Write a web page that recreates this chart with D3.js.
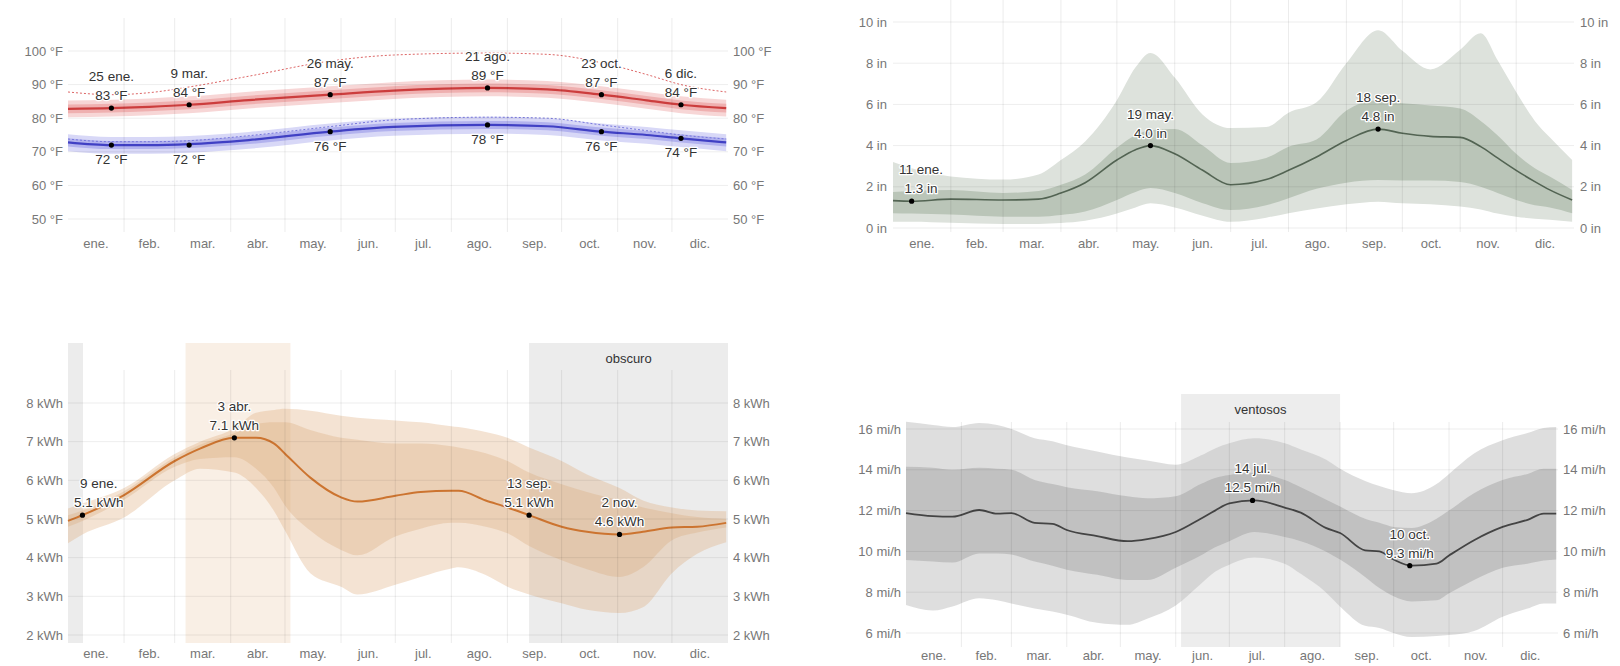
<!DOCTYPE html>
<html><head><meta charset="utf-8">
<script src="https://cdn.jsdelivr.net/npm/d3@7"></script>
<style>
body{margin:0;background:#fff;}
svg{display:block;font-family:"Liberation Sans",Arial,sans-serif;}
.tick text{fill:#777;font-size:13px;}
.ann{fill:#333;font-size:13.5px;text-anchor:middle;paint-order:stroke;stroke:#fff;stroke-width:2.5px;stroke-linejoin:round;}
.mlab{fill:#777;font-size:13px;text-anchor:middle;}
</style></head><body>
<svg id="c" width="1620" height="666"></svg>
<script>
// ---------- common ----------
const months = ["ene.","feb.","mar.","abr.","may.","jun.","jul.","ago.","sep.","oct.","nov.","dic."];
const monthStarts = [0,31,59,90,120,151,181,212,243,273,304,334,365];

// ---------- temperature (°F) ----------
const tempDays = [0, 24, 45, 67, 100, 145, 180, 232, 265, 295, 320, 339, 364];
const highAvg  = [82.8, 83, 83.4, 84, 85.4, 87, 88.2, 89, 88.6, 87, 85.3, 84, 83];
const highP90  = [85.3, 85.5, 85.9, 86.5, 87.9, 89.5, 90.7, 91.5, 91.1, 89.5, 87.8, 86.5, 85.5];
const highP75  = [84.1, 84.3, 84.7, 85.3, 86.7, 88.3, 89.5, 90.3, 89.9, 88.3, 86.6, 85.3, 84.3];
const highP25  = [81.5, 81.7, 82.1, 82.7, 84.1, 85.7, 86.9, 87.7, 87.3, 85.7, 84.0, 82.7, 81.7];
const highP10  = [80.3, 80.5, 80.9, 81.5, 82.9, 84.5, 85.7, 86.5, 86.1, 84.5, 82.8, 81.5, 80.5];
const highFeel = [87.8, 87, 87.6, 89.3, 92.5, 97, 98.8, 99.4, 99, 96.5, 93, 90, 87.8];
const lowAvg   = [72.8, 72, 72, 72.3, 73.5, 76, 77.4, 78, 77.6, 76, 75, 74, 72.8];
const lowP90   = [75.2, 74.4, 74.4, 74.7, 75.9, 78.4, 79.8, 80.4, 80.0, 78.4, 77.4, 76.4, 75.2];
const lowP75   = [74.0, 73.2, 73.2, 73.5, 74.7, 77.2, 78.6, 79.2, 78.8, 77.2, 76.2, 75.2, 74.0];
const lowP25   = [71.6, 70.8, 70.8, 71.1, 72.3, 74.8, 76.2, 76.8, 76.4, 74.8, 73.8, 72.8, 71.6];
const lowP10   = [70.2, 69.4, 69.4, 69.7, 70.9, 73.4, 74.8, 75.4, 75.0, 73.4, 72.4, 71.4, 70.2];
const lowFeel  = [73.8, 73, 73, 73.3, 74.8, 77.5, 79.5, 80.3, 80, 78, 76.3, 75, 73.8];
const tempTicks = [50, 60, 70, 80, 90, 100];
const tempAnn = [
  {day:24, d:"25 ene.", hi:83, lo:72},
  {day:67, d:"9 mar.", hi:84, lo:72},
  {day:145, d:"26 may.", hi:87, lo:76},
  {day:232, d:"21 ago.", hi:89, lo:78},
  {day:295, d:"23 oct.", hi:87, lo:76},
  {day:339, d:"6 dic.", hi:84, lo:74}
];

// ---------- precipitation (in) ----------
const precDays = [0, 10, 31, 59, 78, 90, 103, 120, 130, 138, 151, 166, 181, 200, 212, 227, 243, 260, 273, 288, 304, 315, 324, 334, 344, 352, 364];
const precMid  = [1.33, 1.3, 1.4, 1.36, 1.4, 1.7, 2.2, 3.3, 3.8, 4.0, 3.6, 2.8, 2.1, 2.35, 2.8, 3.45, 4.25, 4.8, 4.6, 4.45, 4.4, 3.95, 3.4, 2.8, 2.25, 1.85, 1.36];
const precP90  = [3.2, 2.9, 2.5, 2.35, 2.6, 3.3, 4.2, 6.2, 7.8, 8.5, 7.3, 5.5, 4.85, 4.9, 5.6, 6.1, 8.0, 9.6, 8.6, 7.7, 8.65, 9.45, 8.15, 6.6, 5.2, 4.4, 3.3];
const precP75  = [1.75, 1.8, 1.84, 1.7, 1.8, 2.1, 2.6, 3.9, 4.5, 4.75, 4.8, 4.0, 3.15, 3.4, 3.95, 4.3, 5.7, 6.2, 6.05, 5.95, 5.8, 5.2, 4.5, 3.6, 2.9, 2.5, 1.85];
const precP25  = [0.72, 0.7, 0.65, 0.55, 0.55, 0.63, 0.8, 1.36, 1.75, 1.94, 1.7, 1.2, 0.87, 1.1, 1.45, 1.9, 2.2, 2.33, 2.3, 2.3, 2.23, 2.0, 1.7, 1.36, 1.1, 1.0, 0.72];
const precP10  = [0.3, 0.3, 0.25, 0.2, 0.2, 0.24, 0.35, 0.7, 1.0, 1.2, 1.0, 0.6, 0.3, 0.5, 0.72, 0.95, 1.15, 1.28, 1.2, 1.15, 1.04, 0.9, 0.7, 0.55, 0.45, 0.4, 0.3];
const precTicks = [0, 2, 4, 6, 8, 10];
const precAnn = [
  {day:10, d:"11 ene.", v:"1.3 in", y:1.3},
  {day:138, d:"19 may.", v:"4.0 in", y:4.0},
  {day:260, d:"18 sep.", v:"4.8 in", y:4.8}
];

// ---------- solar energy (kWh) ----------
const solDays = [0, 8, 31, 59, 73, 92, 104, 114, 120, 134, 151, 160, 181, 195, 212, 216, 231, 243, 255, 273, 287, 305, 318, 334, 348, 364];
const solMid  = [4.95, 5.1, 5.62, 6.5, 6.82, 7.1, 7.1, 6.95, 6.69, 6.07, 5.56, 5.45, 5.6, 5.7, 5.73, 5.73, 5.48, 5.3, 5.1, 4.8, 4.67, 4.6, 4.67, 4.78, 4.8, 4.9];
const solP90  = [5.27, 5.4, 5.8, 6.68, 7.0, 7.35, 7.75, 7.82, 7.85, 7.8, 7.67, 7.62, 7.55, 7.5, 7.4, 7.38, 7.25, 7.1, 6.85, 6.5, 6.15, 5.8, 5.48, 5.3, 5.22, 5.2];
const solP75  = [5.1, 5.22, 5.72, 6.6, 6.92, 7.22, 7.45, 7.5, 7.5, 7.3, 7.1, 7.05, 6.95, 6.95, 6.88, 6.85, 6.7, 6.5, 6.2, 5.9, 5.7, 5.48, 5.3, 5.15, 5.05, 5.0];
const solP25  = [4.8, 4.95, 5.5, 6.35, 6.55, 6.6, 6.3, 5.8, 5.35, 4.7, 4.2, 4.06, 4.55, 4.75, 4.9, 4.9, 4.8, 4.63, 4.3, 3.93, 3.7, 3.5, 3.75, 4.45, 4.65, 4.78];
const solP10  = [4.37, 4.6, 5.04, 6.0, 6.3, 6.2, 5.8, 5.2, 4.7, 3.6, 3.25, 3.05, 3.3, 3.5, 3.72, 3.75, 3.55, 3.25, 3.05, 2.82, 2.65, 2.57, 2.72, 3.6, 4.1, 4.4];
const solTicks = [2, 3, 4, 5, 6, 7, 8];
const solAnn = [
  {day:8, d:"9 ene.", v:"5.1 kWh", y:5.1},
  {day:92, d:"3 abr.", v:"7.1 kWh", y:7.1},
  {day:255, d:"13 sep.", v:"5.1 kWh", y:5.1},
  {day:305, d:"2 nov.", v:"4.6 kWh", y:4.6}
];
const solShades = [
  {from:0, to:8.3, color:"#ececec", label:""},
  {from:65, to:123, color:"#f9efe5", label:""},
  {from:255, to:365, color:"#ececec", label:"obscuro"}
];

// ---------- wind (mi/h) ----------
const windDays = [0, 15, 26, 41, 51, 59, 72, 82, 90, 107, 124, 135, 151, 165, 173, 181, 195, 212, 221, 235, 243, 257, 265, 273, 283, 297, 304, 318, 334, 348, 357, 364];
const windMid  = [11.88, 11.73, 11.7, 12.03, 11.85, 11.88, 11.4, 11.35, 11.05, 10.75, 10.5, 10.6, 10.95, 11.6, 12.0, 12.35, 12.5, 12.15, 11.9, 11.15, 10.9, 10.05, 10.0, 9.6, 9.3, 9.4, 9.8, 10.55, 11.2, 11.55, 11.85, 11.85];
const windP90  = [16.35, 16.2, 16.1, 16.3, 16.2, 16.0, 15.55, 15.4, 15.2, 14.9, 14.6, 14.45, 14.25, 14.7, 15.05, 15.3, 15.55, 15.3, 15.0, 14.5, 14.05, 13.45, 13.2, 13.0, 12.85, 13.3, 13.8, 14.8, 15.45, 15.8, 16.05, 16.1];
const windP75  = [14.15, 14.1, 14.0, 14.1, 14.05, 14.0, 13.5, 13.3, 13.15, 12.95, 12.7, 12.6, 12.7, 13.3, 13.6, 13.75, 13.85, 13.5, 13.15, 12.55, 12.2, 11.6, 11.4, 11.2, 11.15, 11.6, 12.0, 12.85, 13.5, 13.8, 14.05, 14.05];
const windP25  = [9.58, 9.5, 9.45, 9.9, 9.9, 9.85, 9.5, 9.3, 9.1, 8.85, 8.6, 8.6, 9.2, 9.8, 10.2, 10.5, 10.95, 10.7, 10.5, 10.0, 9.6, 8.75, 8.2, 7.8, 7.55, 7.6, 7.95, 8.6, 9.2, 9.4, 9.55, 9.6];
const windP10  = [7.37, 7.1, 7.3, 7.7, 7.6, 7.45, 7.2, 7.05, 6.9, 6.5, 6.4, 6.7, 7.35, 8.4, 9.0, 9.35, 9.7, 9.4, 8.9, 8.0, 7.3, 6.35, 6.25, 6.0, 5.8, 5.85, 5.9, 6.1, 6.8, 7.2, 7.45, 7.45];
const windTicks = [6, 8, 10, 12, 14, 16];
const windAnn = [
  {day:194, d:"14 jul.", v:"12.5 mi/h", y:12.5},
  {day:282, d:"10 oct.", v:"9.3 mi/h", y:9.3}
];
const windShades = [{from:154, to:243, color:"#ededed", label:"ventosos"}];

// ---------- drawing ----------
const svg = d3.select("#c");

function panel(o){
  const g = svg.append("g");
  const x = d3.scaleLinear().domain([0,365]).range([o.x0, o.x1]);
  const y = d3.scaleLinear().domain(o.yDomain).range(o.yRange);
  (o.shades||[]).forEach(s=>{
    g.append("rect").attr("x", x(s.from)).attr("y", o.shadeTop)
      .attr("width", x(s.to)-x(s.from)).attr("height", o.gridBottom-o.shadeTop).attr("fill", s.color);
    if (s.label) g.append("text").attr("x", (x(s.from)+x(s.to))/2).attr("y", o.shadeTop+20)
      .attr("text-anchor","middle").attr("fill","#333").attr("font-size","13px").text(s.label);
  });
  return {g, x, y, o};
}

function grid(p){
  const {g,x,y,o} = p;
  g.append("g").selectAll("line").data(o.ticks).join("line")
    .attr("x1", o.x0).attr("x2", o.x1).attr("y1", d=>y(d)).attr("y2", d=>y(d))
    .attr("stroke","rgba(0,0,0,0.07)");
  g.append("g").selectAll("line").data(monthStarts.slice(1,12)).join("line")
    .attr("x1", d=>x(d)).attr("x2", d=>x(d)).attr("y1", o.gridTop).attr("y2", o.gridBottom)
    .attr("stroke","rgba(0,0,0,0.08)");
}

function axes(p){
  const {g,x,y,o} = p;
  const la = g.append("g").attr("transform",`translate(${o.x0},0)`)
    .call(d3.axisLeft(y).tickValues(o.ticks).tickSize(0).tickPadding(o.pad).tickFormat(o.fmt));
  la.select(".domain").remove();
  const ra = g.append("g").attr("transform",`translate(${o.x1},0)`)
    .call(d3.axisRight(y).tickValues(o.ticks).tickSize(0).tickPadding(o.pad).tickFormat(o.fmt));
  ra.select(".domain").remove();
  g.append("g").selectAll("text").data(months).join("text").attr("class","mlab")
    .attr("x",(d,i)=>x((monthStarts[i]+monthStarts[i+1])/2)).attr("y", o.monthY).text(d=>d);
}

function band(p, days, lo, hi, color){
  const {g,x,y} = p;
  const area = d3.area().x((d,i)=>x(days[i])).y0((d,i)=>y(lo[i])).y1((d,i)=>y(hi[i])).curve(d3.curveMonotoneX);
  g.append("path").attr("d", area(days)).attr("fill", color);
}
function line(p, days, vals, color, width, dash){
  const {g,x,y} = p;
  const ln = d3.line().x((d,i)=>x(days[i])).y((d,i)=>y(vals[i])).curve(d3.curveMonotoneX);
  const path = g.append("path").attr("d", ln(days)).attr("fill","none").attr("stroke", color).attr("stroke-width", width);
  if (dash) path.attr("stroke-dasharray", dash);
}
function dot(p, day, v){
  p.g.append("circle").attr("cx", p.x(day)).attr("cy", p.y(v)).attr("r", 2.6).attr("fill","#000");
}
function annText(p, cx, ys, texts){
  const nodes = texts.map((t,i)=>p.g.append("text").attr("class","ann").attr("x",cx).attr("y",ys[i]).text(t));
  const w = Math.max(...nodes.map(n=>n.node().getComputedTextLength()));
  let c = cx;
  if (c - w/2 < p.o.x0 + 6) c = p.o.x0 + 6 + w/2;
  if (c + w/2 > p.o.x1 - 6) c = p.o.x1 - 6 - w/2;
  nodes.forEach(n=>n.attr("x", c));
}
function annAbove(p, day, v, l1, l2){
  const cx = p.x(day), cy = p.y(v);
  annText(p, cx, [cy-27, cy-8], [l1, l2]);
}

// Panel 1: temperature
{
  const p = panel({x0:68, x1:728, yDomain:[50,100], yRange:[219,51], ticks:tempTicks, gridTop:18, gridBottom:232,
             pad:5, fmt:d=>d+" °F", monthY:248});
  band(p, tempDays, highP10, highP90, "#f7d6d6");
  band(p, tempDays, highP25, highP75, "#efb0b0");
  band(p, tempDays, lowP10, lowP90, "#d8d8f7");
  band(p, tempDays, lowP25, lowP75, "#b2b2ee");
  line(p, tempDays, highFeel, "#d66", 1, "2,2");
  line(p, tempDays, lowFeel, "#77d", 1, "2,2");
  line(p, tempDays, highAvg, "#cc3d3d", 2.2);
  line(p, tempDays, lowAvg, "#4040c4", 2.2);
  grid(p);
  tempAnn.forEach(a=>{
    dot(p, a.day, a.hi); dot(p, a.day, a.lo);
    annAbove(p, a.day, a.hi, a.d, a.hi+" °F");
    annText(p, p.x(a.day), [p.y(a.lo)+19], [a.lo+" °F"]);
  });
  axes(p);
}

// Panel 2: precipitation
{
  const p = panel({x0:893, x1:1574, yDomain:[0,10], yRange:[228,22], ticks:precTicks, gridTop:0, gridBottom:232,
             pad:6, fmt:d=>d+" in", monthY:248});
  band(p, precDays, precP10, precP90, "#dde2dc");
  band(p, precDays, precP25, precP75, "#bac5b8");
  line(p, precDays, precMid, "#536453", 1.6);
  grid(p);
  precAnn.forEach(a=>{ dot(p, a.day, a.y); annAbove(p, a.day, a.y, a.d, a.v); });
  axes(p);
}

// Panel 3: solar energy
{
  const p = panel({x0:68, x1:728, yDomain:[2,8], yRange:[635,403], ticks:solTicks, gridTop:370, gridBottom:643,
             shadeTop:343, shades:solShades, pad:5, fmt:d=>d+" kWh", monthY:658});
  band(p, solDays, solP10, solP90, "rgba(222,170,120,0.33)");
  band(p, solDays, solP25, solP75, "rgba(215,165,115,0.3)");
  line(p, solDays, solMid, "#cc7430", 2);
  grid(p);
  solAnn.forEach(a=>{ dot(p, a.day, a.y); annAbove(p, a.day, a.y, a.d, a.v); });
  axes(p);
}

// Panel 4: wind
{
  const p = panel({x0:906, x1:1558, yDomain:[6,16], yRange:[633,429], ticks:windTicks, gridTop:422, gridBottom:647,
             shadeTop:394, shades:windShades, pad:5, fmt:d=>d+" mi/h", monthY:660});
  band(p, windDays, windP10, windP90, "rgba(190,190,190,0.5)");
  band(p, windDays, windP25, windP75, "rgba(150,150,150,0.4)");
  line(p, windDays, windMid, "#444", 1.8);
  grid(p);
  windAnn.forEach(a=>{ dot(p, a.day, a.y); annAbove(p, a.day, a.y, a.d, a.v); });
  axes(p);
}
</script>
</body></html>
